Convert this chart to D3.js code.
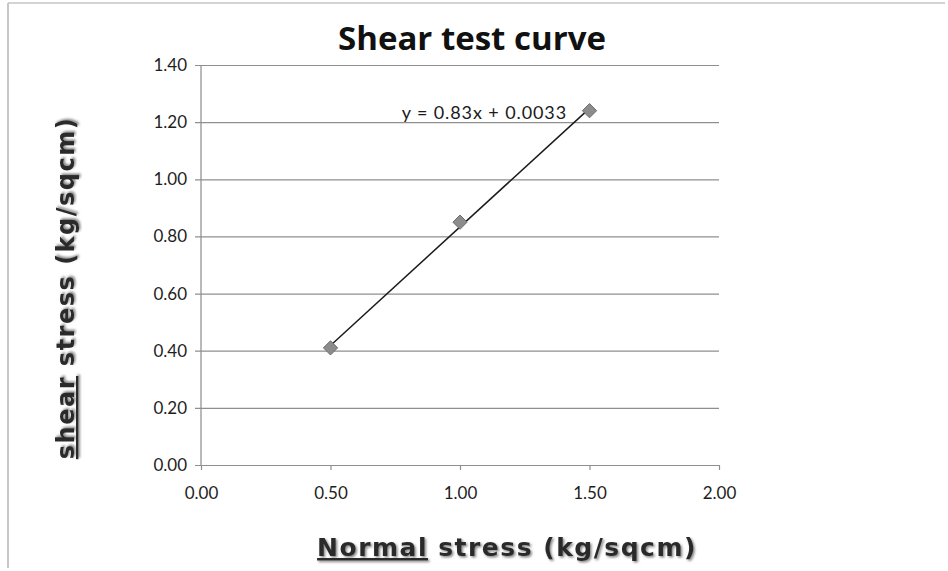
<!DOCTYPE html>
<html>
<head>
<meta charset="utf-8">
<script src="https://cdn.jsdelivr.net/npm/d3@7"></script>
<style>
  html, body { margin: 0; padding: 0; background: #fff; }
  svg { display: block; }
</style>
</head>
<body>
<svg id="chart" width="948" height="571"></svg>
<script>
// Shear test measurements
const normalStress = [0.5, 1.0, 1.5];
const shearStress = [0.41, 0.85, 1.24];
const xTicks = [0, 0.5, 1.0, 1.5, 2.0];
const yTicks = [0, 0.2, 0.4, 0.6, 0.8, 1.0, 1.2, 1.4];
// Linear trendline y = slope * x + intercept
const trendSlope = 0.83;
const trendIntercept = 0.0033;
const trendLabel = "y = 0.83x + 0.0033";

const svg = d3.select("#chart");
const W = 948, H = 571;

// Page frame
svg.append("rect").attr("x", 0).attr("y", 0).attr("width", W).attr("height", H).attr("fill", "#fff");
svg.append("line").attr("x1", 8).attr("x2", 8).attr("y1", 3).attr("y2", 568)
  .attr("stroke", "#b5b5b5").attr("stroke-width", 1.5);
svg.append("line").attr("x1", 8).attr("x2", 945).attr("y1", 3).attr("y2", 3)
  .attr("stroke", "#c4c4c4").attr("stroke-width", 1.5);

const x = d3.scaleLinear().domain([0, 2]).range([201, 719]);
const y = d3.scaleLinear().domain([0, 1.4]).range([465, 65]);

const tickFont = "Lato, 'Open Sans', sans-serif";

// Horizontal gridlines / y axis
const yAxis = d3.axisLeft(y).tickValues(yTicks).tickFormat(d3.format(".2f"))
  .tickSize(-(x(2) - x(0))).tickPadding(14);
const gy = svg.append("g").attr("transform", `translate(${x(0)},0)`).call(yAxis);
gy.select(".domain").attr("stroke", "#8a8a8a").attr("stroke-width", 1.2)
  .attr("d", `M0,${y(1.4)}V${y(0)}`);
gy.selectAll(".tick line").attr("stroke", "#8f8f8f").attr("stroke-width", 1.2)
  .attr("x1", -6);
gy.selectAll(".tick text").attr("font-family", tickFont).attr("font-size", 17)
  .attr("fill", "#1e1e1e");

// x axis
const xAxis = d3.axisBottom(x).tickValues(xTicks).tickFormat(d3.format(".2f"))
  .tickSize(5).tickPadding(17);
const gx = svg.append("g").attr("transform", `translate(0,${y(0)})`).call(xAxis);
gx.select(".domain").remove();
gx.selectAll(".tick line").attr("stroke", "#8f8f8f").attr("stroke-width", 1.2);
gx.selectAll(".tick text").attr("font-family", tickFont).attr("font-size", 17)
  .attr("fill", "#1e1e1e");

// Trendline across the data range
const xMin = d3.min(normalStress), xMax = d3.max(normalStress);
svg.append("line")
  .attr("x1", x(xMin)).attr("y1", y(trendSlope * xMin + trendIntercept))
  .attr("x2", x(xMax)).attr("y2", y(trendSlope * xMax + trendIntercept))
  .attr("stroke", "#1a1a1a").attr("stroke-width", 1.5);

// Data markers (diamonds)
const diamond = d3.symbol().type(d3.symbolDiamond2).size(130);
svg.append("g").selectAll("path")
  .data(normalStress.map((v, i) => [v, shearStress[i]]))
  .join("path")
  .attr("d", diamond)
  .attr("transform", d => `translate(${x(d[0])},${y(d[1])})`)
  .attr("fill", "#8c8c8c").attr("stroke", "#6e6e6e").attr("stroke-width", 1);

// Trendline equation
svg.append("text")
  .attr("x", 567).attr("y", 119)
  .attr("text-anchor", "end")
  .attr("font-family", tickFont).attr("font-size", 18).attr("letter-spacing", 0.9)
  .attr("fill", "#1a1a1a")
  .text(trendLabel);

// Title
svg.append("text")
  .attr("x", 472).attr("y", 50)
  .attr("text-anchor", "middle")
  .attr("font-family", "'Open Sans', Lato, sans-serif").attr("font-weight", 700)
  .attr("font-size", 33).attr("fill", "#111")
  .text("Shear test curve");

// Axis titles: heavy lettering with a soft grey drop shadow
const defs = svg.append("defs");
const f = defs.append("filter").attr("id", "shadow").attr("x", "-5%").attr("y", "-20%")
  .attr("width", "110%").attr("height", "150%");
f.append("feDropShadow").attr("dx", 1.5).attr("dy", 1.5).attr("stdDeviation", 0.8)
  .attr("flood-color", "#777").attr("flood-opacity", 0.9);

const labelFont = "'DejaVu Sans', Verdana, sans-serif";

const xt = svg.append("text")
  .attr("x", 507).attr("y", 556)
  .attr("text-anchor", "middle")
  .attr("font-family", labelFont).attr("font-weight", "bold")
  .attr("font-size", 25).attr("letter-spacing", 1.5).attr("fill", "#2b2b2b")
  .attr("filter", "url(#shadow)");
xt.append("tspan").attr("text-decoration", "underline").text("Normal");
xt.append("tspan").text(" stress (kg/sqcm)");

const yt = svg.append("text")
  .attr("transform", "translate(74,288) rotate(-90)")
  .attr("text-anchor", "middle")
  .attr("font-family", labelFont).attr("font-weight", "bold")
  .attr("font-size", 24).attr("letter-spacing", 1.5).attr("fill", "#2b2b2b")
  .attr("filter", "url(#shadow)");
yt.append("tspan").attr("text-decoration", "underline").text("shear");
yt.append("tspan").text(" stress  (kg/sqcm)");
</script>
</body>
</html>
